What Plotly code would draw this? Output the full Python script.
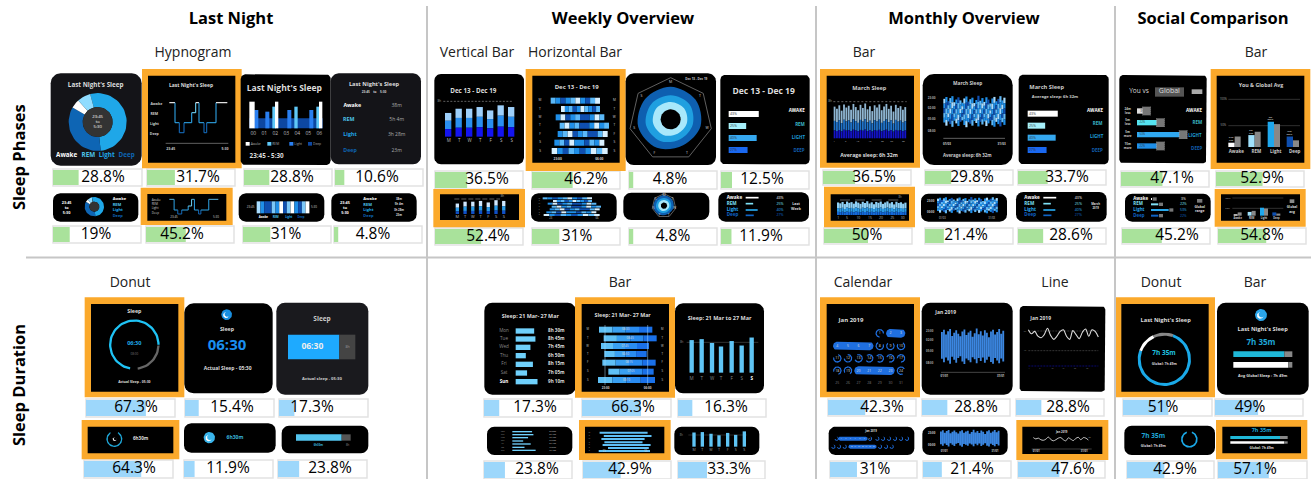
import math
import plotly.graph_objects as go

# ---------- data ----------
phase_names = ["Awake", "REM", "Light", "Deep"]
phase_pct = [43, 25, 40, 27]
phase_pct_month = [43, 25, 40, 27]
phase_time = ["38m", "5h 4m", "3h 28m", "23m"]
donut_share = [52.5, 35, 5, 7.5]  # Light, Deep, Awake, REM
hyp_times = [0, 17, 30, 44, 67, 79, 89, 104, 112, 140, 174]
hyp_levels = [0, 2, 3, 2, 1, 0, 2, 3, 2, 0]
hourly_x = [0, 1, 2, 3, 4, 5, 6]
hourly_awake = [80, 0, 80, 0, 0, 0, 80]
hourly_rem = [0, 0, 65, 0, 65, 0, 65]
hourly_light = [55, 50, 0, 55, 0, 55, 0]
days = ["M", "T", "W", "T", "F", "S", "S"]
week_hours = [5.6, 6.6, 6.6, 7.0, 6.2, 7.4, 7.0]
week_start = [25, 56, 40, 52, 46, 36, 28]
week_end = [173, 173, 186, 200, 196, 186, 196]
week_seq = [[1, 2, 3, 2, 1, 0, 2, 3, 1, 0], [0, 2, 1, 3, 2, 0, 1, 2, 3, 1], [2, 0, 3, 2, 1, 3, 3, 2, 0, 1],
            [1, 0, 2, 1, 3, 3, 2, 0, 2, 1], [2, 1, 0, 3, 2, 1, 3, 3, 1, 0], [2, 1, 3, 0, 2, 2, 3, 1, 2, 0],
            [0, 2, 3, 1, 2, 3, 2, 0, 1, 0]]
radar_deep = [98, 95, 92, 86, 95, 100, 98]
radar_light = [72, 72, 68, 66, 72, 76, 74]
radar_rem = [52, 52, 50, 48, 52, 54, 54]
month_hours = [7.1, 6.6, 7.4, 6.2, 7.6, 6.9, 7.3, 6.4, 7.7, 7.0, 6.3, 7.5, 6.8, 7.8, 6.5, 7.2, 6.1, 7.4, 6.9, 7.6, 6.3, 7.1, 7.7, 6.6, 7.3, 6.0, 7.5, 6.8, 7.2, 6.4, 7.0]
month_start = [1.0, 0.5, 1.6, 0.8, 0.3, 1.9, 1.2, 0.6, 1.4, 2.0, 0.9, 0.4, 1.7, 1.1, 0.7, 2.1, 1.3, 0.2, 1.5, 0.8, 1.8, 0.6, 1.2, 2.2, 0.9, 0.5, 1.6, 1.0, 0.3, 1.4, 0.7]
month_end = [7.2, 8.0, 6.9, 7.6, 8.3, 6.7, 7.4, 8.1, 7.0, 6.6, 7.8, 8.4, 7.1, 7.5, 8.0, 6.8, 7.3, 8.2, 7.0, 7.7, 6.9, 8.1, 7.4, 6.7, 7.9, 8.3, 7.0, 7.6, 8.2, 7.1, 7.8]
social_you = [9, 25, 53, 22]
social_global = [22, 32, 48, 14]
social_notes = ["24m<br>less", "5m<br>less", "5m<br>more", "15m<br>more"]
social_range = [3, 22, 53, 22]
dur_days = ["Mon", "Tue", "Wed", "Thu", "Fri", "Sat", "Sun"]
dur_hours = [8.5, 8.75, 7.75, 6.83, 8.25, 7.08, 9.17]
dur_text = ["8h 30m", "8h 45m", "7h 45m", "6h 50m", "8h 15m", "7h 05m", "9h 10m"]
dur_clock = ["08:30", "08:45", "07:45", "06:50", "08:15", "07:05", "09:10"]
dur_from = [52, 66, 58, 68, 62, 80, 49]
dur_to = [212, 225, 202, 195, 222, 216, 220]
line_hours = [7.4, 6.9, 7.2, 6.6, 6.4, 6.8, 7.6, 6.7, 6.2, 6.6, 7.2, 7.4, 6.6, 6.2, 7.3, 6.8, 6.3, 7.1, 7.5, 6.6, 7.4, 7.2, 6.5]
cal_rings = [1, 8, 9, 10, 11, 12, 13, 14, 15, 16, 17, 18, 19, 24]

pct_phase_1 = [28.8, 31.7, 28.8, 10.6, 36.5, 46.2, 4.8, 12.5, 36.5, 29.8, 33.7, 47.1, 52.9]
pct_phase_2 = [19, 45.2, 31, 4.8, 52.4, 31, 4.8, 11.9, 50, 21.4, 28.6, 45.2, 54.8]
pct_dur_1 = [67.3, 15.4, 17.3, 17.3, 66.3, 16.3, 42.3, 28.8, 28.8, 51, 49]
pct_dur_2 = [64.3, 11.9, 23.8, 23.8, 42.9, 33.3, 31, 21.4, 47.6, 42.9, 57.1]

# ---------- colours and drawing helpers ----------
WHITE, CY, BL, DK = "#ffffff", "#7fe0f5", "#29a8ec", "#0f63c4"
PH = [WHITE, CY, BL, DK]
ORANGE = "#fba92b"
FONT = "Open Sans"
ops = []
ox, oy = 0, 0


def org(x, y):
    global ox, oy
    ox, oy = x, y


def X(v):
    return ox + v / 3


def Y(v):
    return oy + v / 3


def poly(pts, c, spline=False):
    xs = [X(p[0]) for p in pts] + [X(pts[0][0])]
    ys = [Y(p[1]) for p in pts] + [Y(pts[0][1])]
    ops.append(("fill", (c, spline), xs + [None], ys + [None]))


def R(x0, y0, x1, y1, c):
    poly([(x0, y0), (x1, y0), (x1, y1), (x0, y1)], c)


def RR(x0, y0, x1, y1, r, c):
    pts = []
    for cx, cy, a in [(x0 + r, y0 + r, 180), (x1 - r, y0 + r, 270), (x1 - r, y1 - r, 0), (x0 + r, y1 - r, 90)]:
        for k in range(9):
            t = math.radians(a + k * 90 / 8)
            pts.append((cx + r * math.cos(t), cy + r * math.sin(t)))
    poly(pts, c)


def L(xs, ys, c, w=1.0, dash="solid"):
    ops.append(("line", (c, w, dash), [X(v) for v in xs] + [None], [Y(v) for v in ys] + [None]))


def T(x, y, s, size, c=WHITE, a="c", b=False):
    ops.append(("text", (size, c, a, b), [X(x)], [Y(y)], [s]))


def ang(cx, cy, r, d):
    t = math.radians(d - 90)
    return (cx + r * math.cos(t), cy + r * math.sin(t))


def arc(cx, cy, r0, r1, a0, a1, c):
    n = max(3, int(abs(a1 - a0) / 5))
    out = [ang(cx, cy, r1, a0 + (a1 - a0) * k / n) for k in range(n + 1)]
    inn = [ang(cx, cy, r0, a1 - (a1 - a0) * k / n) for k in range(n + 1)]
    poly(out + inn, c)


def disc(cx, cy, r, c):
    poly([ang(cx, cy, r, k * 10) for k in range(36)], c)


def moon(cx, cy, r, c):
    disc(cx, cy, r, c)
    disc(cx - r * .12, cy + r * .08, r * .55, WHITE)
    disc(cx + r * .1, cy - r * .08, r * .5, c)


def orange(x0, y0, x1, y1, i0, j0, i1, j1):
    R(x0, y0, x1, y1, ORANGE)
    R(i0, j0, i1, j1, "#000000")


def gbar(x, w, top, base):
    h = base - top
    R(x, top, x + w, top + h * .33, "#9ed0fb")
    R(x, top + h * .33, x + w, top + h * .68, "#2a8ff0")
    R(x, top + h * .68, x + w, base, "#1414ee")


def pct_rows(x_label, x_bar, x_pct, ys, scale, size, w=2.5):
    for i, n in enumerate(phase_names):
        T(x_label, ys[i], n, size, PH[i], "l", True)
        R(x_bar, ys[i] - w, x_bar + phase_pct[i] * scale, ys[i] + w, PH[i])
        T(x_pct, ys[i], f"{phase_pct[i]}%", size - 1, PH[i])


def pct_bars(x_bar, ys, labels_x, label_ys, h=18):
    for i, n in enumerate(phase_names):
        col = [WHITE, "#a6f0fb", "#35a8f0", "#1a68f0"][i]
        R(x_bar, ys[i], x_bar + phase_pct[i] * 2.1, ys[i] + h, col)
        T(x_bar + 14, ys[i] + h / 2, f"{phase_pct[i]}%", 3.5, "#333333")
        T(labels_x[i], label_ys[i], n.upper(), 4.5, [WHITE, "#3bb8c8", "#1f9fd8", "#125fb0"][i], "c", True)


def week_rows(x_off, ys, h, sc=1.0):
    for i, y in enumerate(ys):
        a, b = x_off + week_start[i] * sc, x_off + week_end[i] * sc
        seq = week_seq[i]
        for k, lv in enumerate(seq):
            col = ["#d8f0ff", "#5ab8f8", "#1f8fe8", "#0f4fb0"][lv]
            R(a + (b - a) * k / 10, y - h / 2, a + (b - a) * (k + 1) / 10, y + h / 2, col)


def radar(cx, cy, R0, sc, tick=True):
    pts = [ang(cx, cy, R0, k * 360 / 7) for k in range(7)]
    L([p[0] for p in pts + pts[:1]], [p[1] for p in pts + pts[:1]], "#777777", .8)
    for vals, c in [(radar_deep, "#0e5fb0"), (radar_light, "#1f9fe0"), (radar_rem, "#a8e8fb")]:
        poly([ang(cx, cy, v * sc, k * 360 / 7) for k, v in enumerate(vals)], c, True)
    disc(cx, cy, 30 * sc, "#000000")
    for k, d in enumerate(days):
        p = ang(cx, cy, R0 * .9, k * 360 / 7)
        T(p[0], p[1], d, 3.5 if tick else 3, "#cccccc")


def month_bars(x0, x1, base, k, w, dash_y=None):
    st = (x1 - x0) / 30
    for i, v in enumerate(month_hours):
        x = x0 + i * st
        h = v * k
        R(x, base - h, x + w, base - h * .55, "#8fb6d2" if k > 8 else "#8fd0f5")
        R(x, base - h * .55, x + w, base - h * .25, "#2173c9" if k > 8 else "#2a9be8")
        R(x, base - h * .25, x + w, base, "#1313c8" if k > 8 else "#1468d8")


def range_bars(x0, x1, y0, k, w, segmented=True):
    st = (x1 - x0) / 30
    cols = ["#a8dcff", "#1f8fe8", "#0f4fb0", "#5fb8f5", "#1f8fe8"]
    for i in range(31):
        a, b = y0 + month_start[i] * k, y0 + month_end[i] * k
        x = x0 + i * st
        if segmented:
            for j in range(5):
                R(x, a + (b - a) * j / 5, x + w, a + (b - a) * (j + 1) / 5, cols[(i + j) % 5])
        else:
            R(x, a, x + w, b, "#3b86e0")


def calendar(xs, ys, rr, sz, big=True):
    pills = [(2, 3, 0), (4, 7, 1), (20, 23, 3)]
    pos = {}
    for r_i, row in enumerate([[1, 2, 3], [4, 5, 6, 7, 8, 9, 10], [11, 12, 13, 14, 15, 16, 17],
                               [18, 19, 20, 21, 22, 23, 24], [25, 26, 27, 28, 29, 30, 31]]):
        start = 7 - len(row) if r_i == 0 else 0
        for c_i, day in enumerate(row):
            pos[day] = (xs[0] + (start + c_i) * (xs[1] - xs[0]) / 6, ys[r_i])
    for a, b, _ in pills:
        RR(pos[a][0] - rr, pos[a][1] - rr, pos[b][0] + rr, pos[b][1] + rr, rr, "#1f6fe0")
    for n in cal_rings:
        arc(pos[n][0], pos[n][1], rr * .72, rr, 200 - n * 17, 470 - n * 17, "#1f6fe0")
    for n, p in pos.items():
        T(p[0], p[1], str(n), sz, "#777777" if n > 24 else "#dddddd")


# ---------- Panel A: last night / phases ----------
org(0, 0)
RR(152, 220, 425, 497, 30, "#141418")
T(287, 255, "Last Night's Sleep", 6.3, "#dddddd", "c", True)
a0 = 345
for v, c in zip(donut_share, ["#1fa7e8", "#0e65b4", WHITE, "#8fdcff"]):
    arc(293, 366, 45, 87, a0, a0 + v * 3.6, c)
    a0 += v * 3.6
disc(293, 366, 45, "#333333")
T(293, 366, "23:45<br>to<br>5:30", 4.2)
for x, n, c in zip([200, 265, 320, 380], phase_names, [WHITE, "#4ec3e8", "#1fa7e8", "#0e65b4"]):
    T(x, 467, n, 6.3, c, "c", True)

orange(426, 207, 725, 505, 444, 227, 706, 488)
T(573, 256, "Last Night's Sleep", 5, "#dddddd", "c", True)
lvl_y = [308, 338, 368, 398]
lvl_c = [WHITE, "#6fd3f5", "#2ea3e5", "#1468b8"]
for n, y, lx in zip(phase_names, lvl_y, [469, 463, 463, 463]):
    T(lx, y + 3, n, 3.5, "#cccccc", "c", True)
for i, lv in enumerate(hyp_levels):
    x0, x1 = 508 + hyp_times[i], 508 + hyp_times[i + 1]
    L([x0, x1], [lvl_y[lv], lvl_y[lv]], lvl_c[lv], 1.1)
    if i + 1 < len(hyp_levels):
        L([x1, x1], [lvl_y[lv], lvl_y[hyp_levels[i + 1]]], lvl_c[max(lv, hyp_levels[i + 1])], 1.1)
L([497, 685], [430, 430], "#777777", .8)
T(512, 447, "23:45", 3.5, "#cccccc", "c", True)
T(675, 447, "5:30", 3.5, "#cccccc", "c", True)

RR(722, 223, 992, 495, 14, "#000000")
T(853, 268, "Last Night's Sleep", 8.5, "#dddddd", "c", True)
R(748, 355, 968, 385, "#0d47a1")
for i in hourly_x:
    x = 755 + i * 33
    if hourly_light[i]:
        R(x + 8, 385 - hourly_light[i], x + 20, 385, "#2a7ff0")
    if hourly_rem[i]:
        R(x - 4, 385 - hourly_rem[i], x + 6, 385, "#5fc8f8")
    if hourly_awake[i]:
        R(x + 4 if i else x - 7, 385 - hourly_awake[i], x + 14 if i else x + 9, 385, WHITE)
    T(760 + i * 33, 400, f"0{i}", 5, "#bbbbbb")
for x, n, c in zip([743, 808, 874, 930], phase_names, [WHITE, "#5fc8f8", "#2a7ff0", "#0d47a1"]):
    R(x - 6, 426, x + 6, 437, c)
    T(x + 9, 432, n, 3.3, "#aaaaaa", "l")
T(800, 470, "23:45 - 5:30", 6.3, "#dddddd", "c", True)

RR(992, 220, 1263, 493, 24, "#141418")
T(1122, 254, "Last Night's Sleep", 5.7, "#dddddd", "c", True)
T(1122, 276, "23:45    to    5:30", 3.2, "#cccccc", "c", True)
for n, t, y, c, lx in zip(phase_names, phase_time, [317, 359, 405, 453], [WHITE, "#4ec3e8", "#1fa7e8", "#0e65b4"], [1057, 1046, 1050, 1050]):
    T(lx, y, n, 5.3, c, "c", True)
    T(1190, y, t, 5, "#aaaaaa")

RR(159, 580, 415, 665, 22, "#000000")
T(200, 625, "23:45<br>to<br>5:30", 3.8, WHITE, "c", True)
a0 = 345
for v, c in zip(donut_share, ["#1fa7e8", "#0e65b4", WHITE, "#8fdcff"]):
    arc(283, 620, 15, 29, a0, a0 + v * 3.6, c)
    a0 += v * 3.6
disc(283, 620, 15, "#333333")
for n, y, c in zip(phase_names, [598, 614, 630, 647], [WHITE, "#4ec3e8", "#1fa7e8", "#0e65b4"]):
    T(338, y, n, 4, c, "l", True)

orange(422, 563, 698, 675, 442, 582, 679, 662)
for n, y in zip(phase_names, [601, 614, 626, 640]):
    T(455, y, n, 3, "#cccccc", "l")
s = 147 / 174
ly = [598, 618, 630, 642]
for i, lv in enumerate(hyp_levels):
    x0, x1 = 508 + hyp_times[i] * s, 508 + hyp_times[i + 1] * s
    L([x0, x1], [ly[lv], ly[lv]], "#5ab4e0" if lv == 0 else lvl_c[lv], 1)
    if i + 1 < len(hyp_levels):
        L([x1, x1], [ly[lv], ly[hyp_levels[i + 1]]], lvl_c[max(lv, hyp_levels[i + 1])], 1)
T(522, 653, "23:45", 3, "#cccccc")
T(648, 653, "5:30", 3, "#cccccc")

RR(716, 580, 973, 665, 22, "#000000")
T(752, 623, "23:45", 3, "#cccccc")
T(942, 623, "5:30", 3, "#cccccc")
cyc = ["#a8dcff", "#1f8fe8", "#0f4fb0", "#0f4fb0", "#7cc8f8", "#1f8fe8", WHITE, "#0f4fb0", "#7cc8f8", WHITE, "#1f8fe8", "#0f4fb0", "#7cc8f8", WHITE]
for i, c in enumerate(cyc):
    R(770 + i * 11.3, 604, 770 + (i + 1) * 11.3, 640, c)
for x, n, c in zip([790, 827, 866, 903], phase_names, [WHITE, "#4ec3e8", "#1fa7e8", "#0e65b4"]):
    T(x, 653, n, 2.8, c, "c", True)

RR(994, 580, 1250, 665, 22, "#000000")
T(1035, 625, "23:45<br>to<br>5:30", 3.8, WHITE, "c", True)
for n, t, y, c in zip(phase_names, phase_time, [598, 614, 630, 647], [WHITE, "#4ec3e8", "#1fa7e8", "#0e65b4"]):
    T(1090, y, n, 4, c, "l", True)
    T(1197, y, t, 2.8, "#dddddd", "c", True)

# ---------- Panel B: weekly / phases ----------
org(425, 0)
RR(28, 222, 297, 493, 20, "#000000")
T(145, 273, "Dec 13 - Dec 19", 6.3, "#dddddd", "c", True)
T(43, 304, "8h", 3, "#aaaaaa")
L([55, 265], [304, 304], "#888888", .7, "2px,1.5px")
for i, v in enumerate(week_hours):
    gbar(60 + i * 31.5, 19, 410 - v * 12.7, 410)
    T(71 + i * 31.5, 424, days[i], 4.5, "#bbbbbb")

orange(302, 207, 602, 513, 322, 227, 584, 488)
T(455, 261, "Dec 13 - Dec 19", 6, "#dddddd", "c", True)
wy = [302, 327, 352, 377, 402, 428, 453]
week_rows(352, wy, 18)
for y, d in zip(wy, days):
    T(345, y, d, 3.2, "#cccccc")
    T(568, y, d, 3.2, "#cccccc")
T(398, 478, "23:00", 3.2, "#cccccc", "c", True)
T(523, 478, "06:00", 3.2, "#cccccc", "c", True)

RR(602, 220, 873, 495, 24, "#000000")
radar(737, 358, 125, 1.0)
T(814, 239, "Dec 13 - Dec 19", 3, "#cccccc", "c", True)

RR(886, 225, 1154, 493, 14, "#000000")
T(1016, 276, "Dec 13 - Dec 19", 8.5, "#dddddd", "c", True)
pct_bars(911, [333, 369, 405, 441], [1115, 1125, 1120, 1122], [334, 374, 414, 453])

orange(25, 567, 300, 682, 45, 583, 282, 660)
L([88, 225], [597, 597], "#888888", .7, "5px,2px")
T(232, 590, "8h", 2.8, "#aaaaaa")
for i, v in enumerate(week_hours):
    x = 92 + i * 23.2
    h = v * 5.6
    R(x, 642 - h, x + 10, 642 - h * .6, "#cfe8ff")
    R(x, 642 - h * .6, x + 10, 642 - h * .25, "#2a9be8")
    R(x, 642 - h * .25, x + 10, 642, "#0f4fc8")
    T(x + 5, 650, days[i], 4, "#bbbbbb")

RR(318, 580, 575, 665, 22, "#000000")
week_rows(328, [595, 603, 611, 620, 628, 637, 645], 6, 1.0)
for y, d in zip([595, 603, 611, 620, 628, 637, 645], days):
    T(343, y, d, 1.8, "#aaaaaa")
T(377, 656, "23", 2.6, "#cccccc")
T(516, 656, "06", 2.6, "#cccccc")

RR(595, 578, 853, 660, 24, "#000000")
radar(717, 617, 36, 0.32)

RR(880, 577, 1152, 665, 22, "#000000")
pct_rows(905, 962, 1065, [593, 611, 630, 646], .9, 4.6)
T(1113, 620, "Last<br>Week", 3.6, "#dddddd", "c", True)

# ---------- Panel C: monthly + social / phases ----------
org(815, 0)
orange(15, 207, 315, 503, 35, 227, 297, 488)
T(163, 265, "March Sleep", 5.6, "#cccccc", "c", True)
T(45, 305, "8h", 3, "#aaaaaa")
L([55, 275], [305, 305], "#888888", .7, "2px,2px")
month_bars(56, 268, 415, 13.4, 5.5)
for v, x in zip(["1", "5", "10", "15", "20", "25", "30"], [58, 92, 128, 165, 202, 230, 265]):
    T(x, 423, v, 2.5, "#bbbbbb")
T(162, 466, "Average sleep: 6h 32m", 5.2, "#dddddd", "c", True)

RR(323, 222, 593, 495, 34, "#000000")
T(458, 251, "March Sleep", 4.8, "#cccccc", "c", True)
for v, y in zip(["23:00", "02:00", "05:00", "08:00"], [296, 326, 357, 393]):
    T(350, y, v, 3, "#aaaaaa", "c", True)
range_bars(385, 565, 285, 11.5, 6.5)
L([385, 570], [415, 415], "#777777", .8)
T(396, 432, "01/03", 3, "#cccccc", "c", True)
T(560, 432, "31/03", 3, "#cccccc", "c", True)
T(457, 469, "Average sleep: 6h 32m", 4.4, "#cccccc", "c", True)

RR(611, 224, 881, 493, 14, "#000000")
T(695, 263, "March Sleep", 5.7, "#cccccc", "c", True)
T(720, 290, "Average sleep: 6h 32m", 4.2, "#cccccc", "c", True)
pct_bars(638, [332, 368, 404, 441], [840, 848, 845, 847], [333, 372, 412, 452])

orange(27, 560, 300, 682, 47, 583, 282, 662)
for x in [75, 120, 170, 220]:
    L([x, x + 30], [600, 600], "#777777", .8)
T(255, 592, "8h", 2.6, "#aaaaaa")
month_bars(66, 268, 645, 5.3, 6.5)
for v, x in zip(["1", "5", "10", "15", "20", "25", "30"], [70, 96, 130, 165, 198, 232, 263]):
    T(x, 653, v, 3.4, "#bbbbbb")

RR(318, 581, 576, 665, 22, "#000000")
T(347, 603, "23:00", 2.8, "#cccccc", "c", True)
T(347, 636, "00:00", 2.8, "#cccccc", "c", True)
range_bars(366, 542, 590, 6, 6.5)
T(382, 655, "01/03", 2.6, "#cccccc")
T(530, 655, "31/03", 2.6, "#cccccc")

RR(603, 576, 875, 665, 22, "#000000")
pct_rows(628, 685, 790, [593, 611, 630, 646], .9, 4.6)
T(842, 618, "March<br>2019", 2.8, "#dddddd", "c", True)

RR(913, 225, 1175, 490, 12, "#000000")
T(972, 274, "You vs", 6.5, "#dddddd")
R(1020, 262, 1107, 290, "#555555")
T(1063, 274, "Global", 7, "#dddddd")
R(1130, 268, 1162, 282, "#aaaaaa")
sry = [333, 368, 404, 438]
for i, y in enumerate(sry):
    T(938, y, social_notes[i], 3, "#cccccc", "c", True)
    R(966, y - 8, 966 + social_range[i] * 2.2 + 18, y + 8, ["#dddddd", "#55e3f0", "#30a8f0", "#1f8fe8"][i])
    T(982, y, f"{social_range[i]}%", 2.8, "#333333")
    xh = 966 + social_range[i] * 2.2 + 8
    R(xh + 2, y - 13, xh + 26, y + 13, "#777777")
    L([xh + 2, xh + 2], [y - 13, y + 13], "#cccccc", .5, "1px,1px")
    L([xh + 26, xh + 26], [y - 13, y + 13], "#cccccc", .5, "1px,1px")
for n, x, y, c in zip(["AWAKE", "REM", "LIGHT", "DEEP"], [1137, 1147, 1140, 1145], [332, 370, 409, 448], [WHITE, "#3bb8c8", "#1f9fd8", "#125fb0"]):
    T(x, y, n, 4.5, c, "c", True)

orange(1187, 207, 1486, 507, 1205, 227, 1468, 488)
T(1338, 258, "You & Global Avg", 5.3, "#cccccc", "c", True)
for t, y in zip(["100%", "50%"], [298, 377]):
    T(1225, y, t, 2.8, "#aaaaaa")
    L([1240, 1455], [y, y], "#444444", .7)
for i, x in enumerate([1240, 1300, 1358, 1415]):
    R(x, 441 - social_you[i] * 1.43, x + 19, 441, [WHITE, "#9fe0fb", "#1fa7ec", "#0e4fb0"][i])
    R(x + 19, 441 - social_global[i] * 1.43, x + 37, 441, "#888888")
    T(x + 8, 441 - social_you[i] * 1.43 - 10, social_notes[i], 2.2, "#bbbbbb", "c", True)
    T(x + 24, 457, phase_names[i], 4.5, "#cccccc", "c", True)

RR(930, 581, 1187, 665, 22, "#000000")
for i, (n, y) in enumerate(zip(phase_names, [597, 613, 630, 647])):
    T(955, y, n, 4.4, PH[i], "l", True)
    R(1008, y - 3, 1008 + social_range[i] * 1.0, y + 3, PH[i])
    R(1008 + social_range[i] * 1.0 + 2, y - 5, 1008 + social_range[i] + 14, y + 5, "#777777")
    T(1105, y, f"{social_range[i]}%", 3.4, PH[i])
R(1146, 597, 1162, 608, "#777777")
T(1154, 628, "Global<br>range", 3.3, "#dddddd", "c", True)

orange(1199, 567, 1472, 680, 1218, 583, 1455, 662)
for t, y in zip(["100%", "50%"], [594, 625]):
    T(1238, y, t, 2.4, "#aaaaaa")
    L([1252, 1405], [y, y], "#444444", .7)
for i, x in enumerate([1256, 1298, 1335, 1372]):
    k = .45
    R(x, 647 - social_you[i] * k, x + 12, 647, [WHITE, "#9fe0fb", "#1fa7ec", "#0e4fb0"][i])
    R(x + 12, 647 - social_global[i] * k, x + 24, 647, "#888888")
    T(x + 12, 654, phase_names[i], 2.5, "#cccccc", "c", True)
R(1424, 598, 1438, 609, "#888888")
T(1431, 629, "Global<br>avg", 3.3, "#dddddd", "c", True)

# ---------- Panel D: last night / duration ----------
org(0, 250)
orange(254, 142, 553, 442, 273, 162, 535, 425)
T(403, 184, "Sleep", 5.3, "#dddddd", "c", True)
arc(403, 284, 69, 76, 190, 450, "#1fc3f5")
arc(403, 284, 69, 76, 92, 172, "#666666")
T(403, 281, "06:30", 5.6, "#1fa7e8", "c", True)
T(403, 313, "08:00", 3, "#777777")
T(403, 396, "Actual Sleep - 05:30", 3.4, "#dddddd", "c", True)

RR(553, 160, 818, 430, 28, "#000000")
moon(680, 194, 16, "#1a8fe0")
T(681, 239, "Sleep", 5.3, "#dddddd", "c", True)
T(681, 290, "06:30", 15, "#1a8ff0", "c", True)
T(683, 357, "Actual Sleep - 05:30", 5, "#dddddd", "c", True)

RR(829, 158, 1105, 434, 26, "#1a1a1e")
T(966, 207, "Sleep", 6.5, "#cccccc", "c", True)
R(864, 254, 1018, 328, "#1eaaff")
R(1018, 254, 1066, 328, "#444444")
T(937, 291, "06:30", 8.5, "#eeeeee", "c", True)
T(1043, 291, "8h", 3.5, "#999999")
T(966, 387, "Actual sleep - 05:30", 4.2, "#cccccc", "c", True)

orange(245, 510, 538, 628, 263, 530, 520, 610)
arc(343, 567, 20, 24, 30, 330, "#1fa7d8")
moon(345, 567, 10, "#000000")
T(422, 567, "6h30m", 4.6, "#dddddd", "c", True)

RR(552, 520, 827, 608, 22, "#000000")
moon(628, 563, 17, "#3ab5ec")
T(705, 563, "6h30m", 5, "#3ab5d8", "c", True)

RR(845, 527, 1105, 610, 22, "#000000")
R(888, 553, 1025, 572, "#53c5ee")
R(1025, 553, 1052, 572, "#555555")
T(955, 585, "6h30m", 2.8, "#3ab5d8", "c", True)
T(1043, 585, "8h", 2.8, "#888888")

# ---------- Panel E: weekly / duration ----------
org(425, 250)
RR(178, 158, 452, 434, 24, "#000000")
T(316, 201, "Sleep: 21 Mar- 27 Mar", 5.4, "#dddddd", "c", True)
ey = [243, 267, 292, 317, 343, 369, 395]
for i, y in enumerate(ey):
    T(237, y, dur_days[i], 4.6, WHITE if i == 6 else "#888888", "c", i == 6)
    R(272, y - 8, 272 + (dur_hours[i] - 4.8) * 15, y + 8, "#6fd0fb")
    T(394, y, dur_text[i], 4.6, "#dddddd", "c", True)

orange(450, 142, 750, 443, 470, 162, 732, 425)
T(593, 197, "Sleep: 21 Mar- 27 Mar", 5.3, "#dddddd", "c", True)
fy = [239, 265, 288, 312, 338, 365, 390]
for i, y in enumerate(fy):
    a, b = dur_from[i] + 470, dur_to[i] + 470
    for j, c in enumerate(["#5fc0f5", "#3aa0f0", "#2a8cf0", "#1a70e8"]):
        R(a + (b - a) * j / 4, y - 9, a + (b - a) * (j + 1) / 4, y + 9, c)
    T((a + b) / 2, y, dur_clock[i], 2.8, "#dddddd")
    T(488, y, days[i], 2.8, "#cccccc")
    T(712, y, days[i], 2.8, "#cccccc")
L([540, 540], [225, 405], "#aaddff", .5)
L([668, 668], [225, 405], "#aaddff", .5)
T(542, 414, "23:00", 3, "#cccccc", "c", True)
T(668, 414, "06:00", 3, "#cccccc", "c", True)

RR(750, 160, 1017, 430, 24, "#000000")
T(884, 207, "Sleep: 21 Mar to 27 Mar", 5.5, "#dddddd", "c", True)
T(770, 277, "8h", 3, "#888888")
L([785, 1000], [277, 277], "#555555", .6)
for i, x in enumerate([800, 830, 861, 888, 920, 950, 980]):
    R(x - 6.5, 368 - dur_hours[i] * 11.5, x + 6.5, 368, "#5fc5f5")
    T(x, 388, days[i], 4.6, WHITE if i == 6 else "#888888", "c", i == 6)

RR(186, 530, 442, 615, 22, "#000000")
gy = [545, 554, 563, 573, 582, 592, 601]
for i, y in enumerate(gy):
    T(233, y, dur_days[i], 1.9, "#999999")
    R(262, y - 2, 262 + (dur_hours[i] - 4.8) * 16, y + 2, "#6fd0fb")
    T(383, y, dur_text[i], 1.9, "#cccccc")

orange(462, 510, 737, 630, 480, 530, 718, 610)
hy = [548, 558, 567, 577, 585, 594, 603]
for i, y in enumerate(hy):
    a, b = 522 + (dur_from[i] - 50) * .9, 522 + (dur_to[i] - 50) * .9
    R(a, y - 3, b, y + 3, "#5fc0f5")
    T(493, y, days[i], 1.9, "#aaaaaa")
T(537, 605, "23", 2.6, "#cccccc")
T(662, 605, "06", 2.6, "#cccccc")

RR(748, 530, 1003, 615, 22, "#000000")
T(769, 557, "8h", 2.6, "#888888")
L([790, 965], [555, 555], "#444444", .6)
for i, x in enumerate([807, 832, 858, 882, 908, 932, 958]):
    R(x - 5, 590 - dur_hours[i] * 5, x + 5, 590, "#5fc5f5")
    T(x, 600, days[i], 3.6, "#999999")

# ---------- Panel F: monthly + social / duration ----------
org(815, 250)
orange(15, 142, 315, 442, 35, 162, 297, 425)
T(108, 211, "Jan 2019", 6, "#dddddd", "c", True)
calendar((67, 258), [250, 288, 325, 362, 400], 13, 3.5)

RR(320, 158, 593, 434, 26, "#000000")
T(392, 188, "Jan 2019", 5, "#dddddd", "c", True)
for v, y in zip(["23:00", "02:00", "05:00", "08:00"], [243, 272, 303, 340]):
    T(344, y, v, 2.8, "#aaaaaa", "c", True)
range_bars(378, 562, 233, 13, 5.5, False)
L([378, 570], [367, 367], "#555555", .8)
T(388, 380, "01/01", 2.8, "#cccccc", "c", True)
T(557, 380, "31/01", 2.8, "#cccccc", "c", True)

RR(614, 168, 871, 425, 12, "#000000")
T(677, 206, "Jan 2019", 5, "#dddddd", "c", True)
L([640, 850], [243, 243], "#555555", .6, "2px,1px")
L([640, 850], [302, 302], "#555555", .6, "2px,1px")
L([640, 850], [348, 348], "#0a0a8a", .8, "2px,1px")
T(630, 243, "8h", 2, "#888888")
T(630, 302, "4h", 2, "#888888")
lst = 210 / (len(line_hours) - 1)
ops.append(("spline", ("#dddddd", 1.1), [X(640 + i * lst) for i in range(len(line_hours))],
            [Y(225 + (8 - v) * 24) for v in line_hours]))
for x, v in zip([642, 674, 712, 745, 780, 817], ["1", "5", "10", "15", "20", "25"]):
    T(x, 355, v, 1.8, "#888888")

RR(41, 530, 298, 615, 20, "#000000")
T(168, 545, "Jan 2019", 2.8, "#dddddd", "c", True)
rr = 6
for y, a, b in [(566, 70, 158), (590, 100, 185)]:
    RR(a, y - rr, b, y + rr, rr, "#1f6fe0")
for x in [65, 165, 187, 204, 222, 240, 258, 276]:
    arc(x, 566, 4, 6.5, 0, 260, "#1f6fe0")
for x in [55, 72, 89, 195, 213, 230]:
    arc(x, 590, 4, 6.5, 0, 260, "#1f6fe0")
for i in range(7):
    T(78 + i * 14, 566, str(i + 4), 1.8, "#dddddd")
    T(110 + i * 11, 590, str(i + 20), 1.8, "#dddddd")

RR(322, 530, 578, 615, 22, "#000000")
T(350, 551, "23:00", 2.8, "#cccccc", "c", True)
T(350, 586, "00:00", 2.8, "#cccccc", "c", True)
range_bars(375, 548, 538, 6.2, 5.5, False)
T(388, 603, "01/01", 2.6, "#cccccc", "c", True)
T(540, 603, "31/01", 2.6, "#cccccc", "c", True)

orange(604, 510, 880, 630, 622, 530, 862, 612)
T(740, 548, "Jan 2019", 2.8, "#dddddd", "c", True)
lst2 = 165 / (len(line_hours) - 1)
ops.append(("spline", ("#dddddd", .9), [X(655 + i * lst2) for i in range(len(line_hours))],
            [Y(558 + (8 - v) * 8) for v in line_hours]))
T(824, 562, "8h", 2, "#aaaaaa")
L([650, 830], [597, 597], "#666666", .6)
T(664, 605, "01/01", 2.6, "#cccccc", "c", True)
T(808, 605, "31/01", 2.6, "#cccccc", "c", True)

orange(900, 142, 1200, 442, 919, 162, 1181, 425)
T(1052, 211, "Last Night's Sleep", 5.7, "#dddddd", "c", True)
arc(1048, 328, 71, 80, 20, 290, "#1aa9e8")
arc(1048, 328, 71, 80, 290, 335, WHITE)
arc(1048, 328, 71, 80, 335, 380, "#888888")
T(1047, 311, "7h 35m", 6.5, "#1fc3e0", "c", True)
T(1048, 343, "Global: 7h 49m", 3.4, "#dddddd", "c", True)

RR(1206, 158, 1481, 434, 26, "#000000")
moon(1338, 195, 18, "#2aa5ea")
T(1343, 239, "Last Night's Sleep", 5.7, "#dddddd", "c", True)
T(1338, 279, "7h 35m", 8, "#1fa7d8", "c", True)
R(1255, 304, 1408, 321, "#1fb8d8")
R(1408, 304, 1432, 321, "#888888")
R(1255, 336, 1420, 353, WHITE)
R(1420, 336, 1432, 353, "#888888")
T(1343, 378, "Avg Global Sleep : 7h 49m", 3.9, "#dddddd", "c", True)

RR(928, 527, 1200, 615, 22, "#000000")
T(1015, 558, "7h 35m", 6.5, "#1fa7d8", "c", True)
T(1015, 587, "Global: 7h 49m", 3.4, "#dddddd", "c", True)
arc(1123, 568, 20, 25, 20, 340, "#1aa9e8")

orange(1203, 510, 1477, 628, 1222, 530, 1458, 610)
T(1340, 543, "7h 35m", 5.5, "#1fa7d8", "c", True)
R(1246, 558, 1395, 567, "#1fb8d8")
R(1395, 558, 1418, 567, "#888888")
R(1246, 574, 1408, 581, WHITE)
R(1408, 574, 1418, 581, "#888888")
T(1340, 595, "Global: 7h 49m", 3.3, "#dddddd", "c", True)

# ---------- percentage cells: left, right, top, bottom, label x, in page pixels ----------
cells_1 = [(53, 142, 169, 186, 103), (147, 235, 169, 186, 198), (244, 332, 169, 186, 292), (335, 423, 169, 186, 377),
           (435, 523, 171, 189, 487), (532, 620, 171, 189, 586), (629, 717, 171, 189, 670), (721, 809, 171, 189, 762),
           (823, 911, 170, 185, 874), (925, 1013, 170, 185, 972), (1018, 1106, 170, 185, 1067),
           (1121, 1209, 171, 187, 1172), (1216, 1304, 171, 187, 1262)]
cells_2 = [(53, 141, 226, 243, 96), (146, 234, 226, 243, 182), (243, 331, 226, 243, 286), (334, 422, 226, 243, 373),
           (435, 523, 228, 245, 488), (532, 620, 228, 245, 577), (629, 717, 228, 245, 673), (721, 809, 228, 245, 761),
           (824, 912, 228, 244, 867), (925, 1013, 228, 244, 966), (1018, 1106, 228, 244, 1071),
           (1122, 1210, 228, 244, 1177), (1218, 1306, 228, 244, 1262)]
cells_3 = [(86, 175, 399, 417, 136), (185, 274, 399, 417, 232), (279, 368, 399, 417, 312),
           (484, 572, 399, 417, 535), (582, 671, 399, 417, 633), (678, 766, 399, 417, 726),
           (828, 916, 399, 416, 882), (922, 1010, 399, 416, 976), (1016, 1104, 399, 416, 1068),
           (1123, 1212, 399, 416, 1163), (1215, 1303, 399, 416, 1250)]
cells_4 = [(84, 173, 460, 478, 134), (184, 273, 460, 478, 228), (278, 367, 460, 478, 330),
           (484, 572, 461, 479, 537), (583, 671, 461, 479, 630), (678, 765, 461, 479, 729),
           (830, 917, 461, 478, 875), (923, 1011, 461, 478, 972), (1018, 1105, 461, 478, 1073),
           (1127, 1214, 461, 479, 1175), (1218, 1307, 461, 479, 1255)]

fig = go.Figure()
for vals, cells, col in [(pct_phase_1, cells_1, "#a9e29b"), (pct_phase_2, cells_2, "#a9e29b"),
                         (pct_dur_1, cells_3, "#9dd7fb"), (pct_dur_2, cells_4, "#9dd7fb")]:
    fig.add_trace(go.Bar(orientation="h", x=[c[1] - c[0] for c in cells], base=[c[0] for c in cells],
                         y=[(c[2] + c[3]) / 2 for c in cells], width=[c[3] - c[2] for c in cells],
                         marker=dict(color="#ffffff", line=dict(color="#e2e2e2", width=1.5)), hoverinfo="skip"))
    fig.add_trace(go.Bar(orientation="h", x=[(c[1] - c[0]) * v / 100 for c, v in zip(cells, vals)], base=[c[0] for c in cells],
                         y=[(c[2] + c[3]) / 2 for c in cells], width=[c[3] - c[2] - 2 for c in cells],
                         marker=dict(color=col, line=dict(width=0)), hoverinfo="skip"))

# merged drawing of the thumbnails, in order
merged = []
for op in ops:
    if merged and merged[-1][0] == op[0] == "fill" and merged[-1][1] == op[1] and not op[1][1]:
        merged[-1][2].extend(op[2])
        merged[-1][3].extend(op[3])
    elif merged and merged[-1][0] == op[0] == "line" and merged[-1][1] == op[1]:
        merged[-1][2].extend(op[2])
        merged[-1][3].extend(op[3])
    elif merged and merged[-1][0] == op[0] == "text" and merged[-1][1] == op[1]:
        merged[-1][2].extend(op[2])
        merged[-1][3].extend(op[3])
        merged[-1][4].extend(op[4])
    else:
        merged.append([op[0], op[1], list(op[2]), list(op[3])] + ([list(op[4])] if len(op) > 4 else []))

for m in merged:
    if m[0] == "fill":
        c, sp = m[1]
        fig.add_trace(go.Scatter(x=m[2], y=m[3], mode="lines", fill="toself", fillcolor=c,
                                 line=dict(width=0, shape="spline" if sp else "linear", color=c), hoverinfo="skip"))
    elif m[0] == "line":
        c, w, d = m[1]
        fig.add_trace(go.Scatter(x=m[2], y=m[3], mode="lines", line=dict(color=c, width=w, dash=d), hoverinfo="skip"))
    elif m[0] == "spline":
        c, w = m[1]
        fig.add_trace(go.Scatter(x=m[2], y=m[3], mode="lines", line=dict(color=c, width=w, shape="spline"), hoverinfo="skip"))
    else:
        sz, c, a, b = m[1]
        fig.add_trace(go.Scatter(x=m[2], y=m[3], text=m[4], mode="text",
                                 textposition={"c": "middle center", "l": "middle right", "r": "middle left"}[a],
                                 textfont=dict(size=sz, color=c, family=FONT, weight=700 if b else 400), hoverinfo="skip"))

# percentage labels
for vals, cells in [(pct_phase_1, cells_1), (pct_phase_2, cells_2), (pct_dur_1, cells_3), (pct_dur_2, cells_4)]:
    fig.add_trace(go.Scatter(x=[c[4] for c in cells], y=[(c[2] + c[3]) / 2 + .5 for c in cells],
                             text=[f"{v:g}%" for v in vals], mode="text", textposition="middle center",
                             textfont=dict(size=15.5, color="#000000", family=FONT, weight=500), hoverinfo="skip"))

# dividers
for x in [427, 816, 1115]:
    fig.add_trace(go.Scatter(x=[x, x], y=[6, 479], mode="lines", line=dict(color="#c6c6c6", width=2), hoverinfo="skip"))
fig.add_trace(go.Scatter(x=[26, 1311], y=[257.5, 257.5], mode="lines", line=dict(color="#c6c6c6", width=2), hoverinfo="skip"))

# headings
head_names = ["Last Night", "Weekly Overview", "Monthly Overview", "Social Comparison"]
head_x = [231, 623, 964, 1213]
sub_names = ["Hypnogram", "Vertical Bar", "Horizontal Bar", "Bar", "Bar", "Donut", "Bar", "Calendar", "Line", "Donut", "Bar"]
sub_x = [193, 477, 575, 864, 1256, 130, 620, 863, 1055, 1161, 1255]
sub_y = [53, 53, 53, 53, 53, 283, 283, 283, 283, 283, 283]
fig.add_trace(go.Scatter(x=head_x, y=[20] * 4, text=head_names, mode="text", textposition="middle center",
                         textfont=dict(size=16.5, color="#000000", family=FONT, weight=700), hoverinfo="skip"))
fig.add_trace(go.Scatter(x=sub_x, y=sub_y, text=sub_names, mode="text", textposition="middle center",
                         textfont=dict(size=14, color="#222222", family=FONT), hoverinfo="skip"))
annots = [dict(x=18, y=157, text="Sleep Phases", textangle=-90), dict(x=18, y=385, text="Sleep Duration", textangle=-90)]
for a in annots:
    a.update(xref="x", yref="y", showarrow=False, font=dict(size=16.5, color="#000000", family=FONT, weight=700))

fig.update_layout(width=1311, height=479, margin=dict(l=0, r=0, t=0, b=0), paper_bgcolor="white", plot_bgcolor="white",
                  showlegend=False, barmode="overlay", annotations=annots,
                  xaxis=dict(range=[0, 1311], visible=False, fixedrange=True),
                  yaxis=dict(range=[479, 0], visible=False, fixedrange=True))
fig.write_html("out.html", config={"displayModeBar": False},
               post_script="document.body.style.margin='0';document.body.style.overflow='hidden';")
